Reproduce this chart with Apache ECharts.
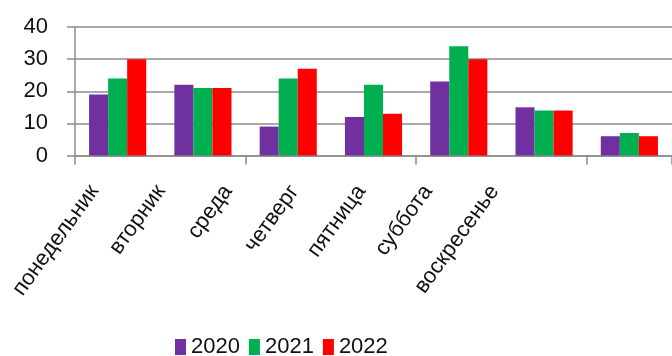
<!DOCTYPE html>
<html>
<head>
<meta charset="utf-8">
<script src="https://cdn.jsdelivr.net/npm/echarts@6/dist/echarts.min.js"></script>
<style>
  html, body { margin: 0; padding: 0; background: #fff; }
  #chart { width: 672px; height: 356px; }
</style>
</head>
<body>
<div id="chart"></div>
<script>
// Days of the week and yearly counts
const days = ['понедельник', 'вторник', 'среда', 'четверг', 'пятница', 'суббота', 'воскресенье'];
const years = ['2020', '2021', '2022'];
const values2020 = [19, 22, 9, 12, 23, 15, 6];
const values2021 = [24, 21, 24, 22, 34, 14, 7];
const values2022 = [30, 21, 27, 13, 30, 14, 6];
const yTicks = { min: 0, max: 40, interval: 10 };

const colors = ['#7030A0', '#00B050', '#FF0000'];
const gridColor = '#8c8c8c';
const textColor = '#111';

const chart = echarts.init(document.getElementById('chart'), null, { renderer: 'canvas' });

const seriesData = [values2020, values2021, values2022];

chart.setOption({
  animation: false,
  color: colors,
  grid: [
    { left: 75, top: 27, width: 605, height: 128.5 },
    // separate strip that only carries the slanted day names
    { left: 61, top: 27, width: 467, height: 128.5 }
  ],
  legend: {
    data: years,
    left: 170,
    top: 331,
    icon: 'rect',
    itemWidth: 11,
    itemHeight: 16,
    itemGap: 9,
    textStyle: {
      fontFamily: '"Liberation Sans", sans-serif',
      fontSize: 22,
      color: textColor
    }
  },
  xAxis: [
    {
      type: 'category',
      gridIndex: 0,
      data: days,
      axisLine: { lineStyle: { color: gridColor, width: 1.5 } },
      axisTick: { show: true, length: 9, lineStyle: { color: gridColor, width: 1.5 } },
      axisLabel: { show: false }
    },
    {
      type: 'category',
      gridIndex: 1,
      data: days,
      axisLine: { show: false },
      axisTick: { show: false },
      axisLabel: {
        rotate: 54,
        margin: 32,
        interval: 0,
        fontFamily: '"Liberation Sans", sans-serif',
        fontSize: 22,
        color: textColor
      }
    }
  ],
  yAxis: [
    {
      type: 'value',
      gridIndex: 0,
      min: yTicks.min,
      max: yTicks.max,
      interval: yTicks.interval,
      axisLine: { show: true, lineStyle: { color: gridColor, width: 1.5 } },
      axisTick: { show: true, length: 8, lineStyle: { color: gridColor, width: 1.5 } },
      splitLine: { lineStyle: { color: gridColor, width: 1.5 } },
      axisLabel: {
        margin: 27,
        fontFamily: '"Liberation Sans", sans-serif',
        fontSize: 22,
        color: textColor
      }
    },
    {
      type: 'value',
      gridIndex: 1,
      show: false,
      min: 0,
      max: 40
    }
  ],
  series: years.map((y, i) => ({
    name: y,
    type: 'bar',
    xAxisIndex: 0,
    yAxisIndex: 0,
    data: seriesData[i],
    barGap: '0%',
    barCategoryGap: '33%',
    itemStyle: { color: colors[i] }
  }))
});
</script>
</body>
</html>
